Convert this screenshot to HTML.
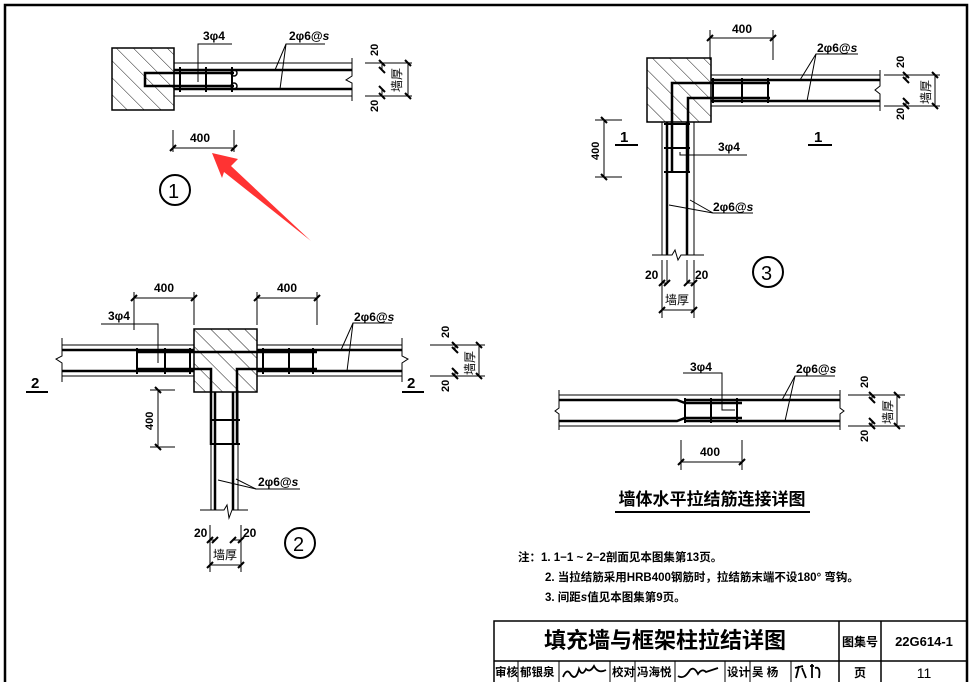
<!DOCTYPE html>
<html><head><meta charset="utf-8"><style>
html,body{margin:0;padding:0;background:#fff;}
svg{display:block;}
text{font-family:"Liberation Sans","Noto Sans CJK SC",sans-serif;fill:#000;}
.b{font-weight:bold;}
.d{marker-start:url(#t);marker-end:url(#t);}
</style></head><body>
<svg width="971" height="682" viewBox="0 0 971 682" xmlns="http://www.w3.org/2000/svg">
<defs>
<pattern id="h" width="12" height="12" patternUnits="userSpaceOnUse" patternTransform="rotate(-45)">
<line x1="0" y1="0" x2="0" y2="12" stroke="#000" stroke-width="0.9"/>
</pattern>
<marker id="t" markerWidth="10" markerHeight="10" refX="5" refY="5" orient="auto" markerUnits="userSpaceOnUse">
<line x1="2" y1="8" x2="8" y2="2" stroke="#000" stroke-width="2"/>
</marker>
</defs>
<rect x="5" y="5" width="962" height="690" fill="none" stroke="#000" stroke-width="2.5"/>

<!-- ========== DETAIL 1 ========== -->
<g stroke="#000" fill="none">
<rect x="112" y="48" width="62" height="62" fill="url(#h)" stroke-width="1.5"/>
<line x1="174" y1="63" x2="352" y2="63"/><line x1="174" y1="96" x2="352" y2="96"/>
<line x1="174" y1="70" x2="352" y2="70" stroke-width="2.5"/><line x1="174" y1="89" x2="352" y2="89" stroke-width="2.5"/>
<polyline points="352,58 352,76 346,80 352,83 352,101"/>
<path d="M234,73 H145 V86 H234" stroke-width="2.5"/>
<line x1="180" y1="67" x2="180" y2="92" stroke-width="2"/><line x1="206" y1="67" x2="206" y2="92" stroke-width="2"/><line x1="232" y1="67" x2="232" y2="92" stroke-width="2"/>
<circle cx="234" cy="73" r="3" stroke-width="1.5"/><circle cx="234" cy="86" r="3" stroke-width="1.5"/>
<polyline points="198,82 198,44 232,44"/>
<polyline points="275,70 286,44 325,44"/><line x1="280" y1="89" x2="286" y2="44"/>
<line x1="173" y1="130" x2="173" y2="152"/><line x1="234" y1="130" x2="234" y2="152"/><line class="d" x1="173" y1="148" x2="234" y2="148"/>
<line x1="365" y1="63" x2="412" y2="63"/><line x1="365" y1="96" x2="412" y2="96"/>
<line class="d" x1="382" y1="63" x2="382" y2="70"/><line class="d" x1="382" y1="89" x2="382" y2="96"/>
<line class="d" x1="408" y1="63" x2="408" y2="96"/>
<circle cx="175" cy="190" r="15" stroke-width="2"/>
</g>
<text x="203" y="40" font-size="12" class="b">3φ4</text>
<text x="289" y="40" font-size="12" class="b">2φ6@<tspan font-style="italic">s</tspan></text>
<text x="190" y="142" font-size="12" class="b">400</text>
<text transform="translate(378,56) rotate(-90)" font-size="11" class="b">20</text>
<text transform="translate(378,112) rotate(-90)" font-size="11" class="b">20</text>
<text transform="translate(401,92) rotate(-90)" font-size="12">墙厚</text>
<text x="168" y="198" font-size="20">1</text>
<polygon points="212,153 238,159 231,166 311,241 224,172 222,178" fill="#f33"/>

<!-- ========== DETAIL 3 ========== -->
<g stroke="#000" fill="none">
<rect x="647" y="58" width="64" height="64" fill="url(#h)" stroke-width="1.5"/>
<line x1="711" y1="75" x2="880" y2="75"/><line x1="711" y1="106" x2="880" y2="106"/>
<line x1="711" y1="80" x2="880" y2="80" stroke-width="2.5"/><line x1="711" y1="101" x2="880" y2="101" stroke-width="2.5"/>
<polyline points="880,70 880,86 875,90 880,94 880,111"/>
<line x1="662" y1="122" x2="662" y2="255"/><line x1="694" y1="122" x2="694" y2="255"/>
<line x1="667" y1="122" x2="667" y2="255" stroke-width="2.5"/><line x1="687" y1="122" x2="687" y2="255" stroke-width="2.5"/>
<polyline points="652,255 672,255 675,250 678,260 681,255 704,255"/>
<path d="M770,83 H672 V173 M770,98 H688 V173" stroke-width="2.5"/>
<line x1="713" y1="78" x2="713" y2="103" stroke-width="2"/><line x1="742" y1="78" x2="742" y2="103" stroke-width="2"/><line x1="768" y1="78" x2="768" y2="103" stroke-width="2"/>
<line x1="664" y1="124" x2="690" y2="124" stroke-width="2"/><line x1="664" y1="148" x2="690" y2="148" stroke-width="2"/><line x1="664" y1="172" x2="690" y2="172" stroke-width="2"/>
<polyline points="680,152 680,155 747,155"/>
<polyline points="669,205 713,213 753,213"/><line x1="690" y1="200" x2="713" y2="213"/>
<polyline points="800,80 816,54 858,54"/><line x1="807" y1="101" x2="816" y2="54"/>
<line x1="710" y1="30" x2="710" y2="60"/><line x1="773" y1="30" x2="773" y2="60"/><line class="d" x1="710" y1="38" x2="773" y2="38"/>
<line x1="595" y1="120" x2="622" y2="120"/><line x1="595" y1="177" x2="622" y2="177"/><line class="d" x1="604" y1="120" x2="604" y2="177"/>
<line x1="615" y1="145" x2="638" y2="145" stroke-width="2"/><line x1="808" y1="145" x2="832" y2="145" stroke-width="2"/>
<line x1="662" y1="260" x2="662" y2="318"/><line x1="694" y1="260" x2="694" y2="318"/>
<line x1="667" y1="260" x2="667" y2="283"/><line x1="687" y1="260" x2="687" y2="283"/>
<line class="d" x1="662" y1="283" x2="667" y2="283"/><line class="d" x1="687" y1="283" x2="694" y2="283"/>
<line class="d" x1="662" y1="310" x2="694" y2="310"/>
<line x1="884" y1="75" x2="940" y2="75"/><line x1="884" y1="106" x2="940" y2="106"/>
<line class="d" x1="906" y1="75" x2="906" y2="80"/><line class="d" x1="906" y1="101" x2="906" y2="106"/>
<line class="d" x1="935" y1="75" x2="935" y2="106"/>
<circle cx="768" cy="272" r="15" stroke-width="2"/>
</g>
<text x="732" y="33" font-size="12" class="b">400</text>
<text x="817" y="52" font-size="12" class="b">2φ6@<tspan font-style="italic">s</tspan></text>
<text x="718" y="151" font-size="12" class="b">3φ4</text>
<text x="713" y="211" font-size="12" class="b">2φ6@<tspan font-style="italic">s</tspan></text>
<text transform="translate(599,160) rotate(-90)" font-size="11" class="b">400</text>
<text x="620" y="142" font-size="15" class="b">1</text>
<text x="814" y="142" font-size="15" class="b">1</text>
<text x="645" y="279" font-size="12" class="b">20</text>
<text x="695" y="279" font-size="12" class="b">20</text>
<text x="665" y="304" font-size="12">墙厚</text>
<text transform="translate(904,68) rotate(-90)" font-size="11" class="b">20</text>
<text transform="translate(904,120) rotate(-90)" font-size="11" class="b">20</text>
<text transform="translate(930,104) rotate(-90)" font-size="12">墙厚</text>
<text x="761" y="280" font-size="20">3</text>

<!-- ========== DETAIL 2 ========== -->
<g stroke="#000" fill="none">
<rect x="194" y="329" width="63" height="63" fill="url(#h)" stroke-width="1.5"/>
<line x1="62" y1="345" x2="194" y2="345"/><line x1="62" y1="376" x2="194" y2="376"/>
<line x1="257" y1="345" x2="402" y2="345"/><line x1="257" y1="376" x2="402" y2="376"/>
<line x1="62" y1="350" x2="194" y2="350" stroke-width="2.5"/><line x1="62" y1="371" x2="194" y2="371" stroke-width="2.5"/>
<line x1="257" y1="350" x2="402" y2="350" stroke-width="2.5"/><line x1="257" y1="371" x2="402" y2="371" stroke-width="2.5"/>
<polyline points="62,338 62,356 56,359 62,363 62,382"/>
<polyline points="402,338 402,356 408,359 402,363 402,382"/>
<path d="M137,352 H254 M137,369 H211 V445 M317,352 H199 M317,369 H237 V445" stroke-width="2.5"/>
<line x1="137" y1="348" x2="137" y2="374" stroke-width="2"/><line x1="165" y1="348" x2="165" y2="374" stroke-width="2"/><line x1="190" y1="348" x2="190" y2="374" stroke-width="2"/>
<line x1="263" y1="348" x2="263" y2="374" stroke-width="2"/><line x1="289" y1="348" x2="289" y2="374" stroke-width="2"/><line x1="313" y1="348" x2="313" y2="374" stroke-width="2"/>
<line x1="211" y1="392" x2="211" y2="510"/><line x1="238" y1="392" x2="238" y2="510"/>
<line x1="215" y1="392" x2="215" y2="510" stroke-width="2.5"/><line x1="233" y1="392" x2="233" y2="510" stroke-width="2.5"/>
<line x1="210" y1="420" x2="240" y2="420" stroke-width="2"/><line x1="210" y1="444" x2="240" y2="444" stroke-width="2"/>
<polyline points="200,510 224,510 227,505 229,518 232,510 248,510"/>
<polyline points="158,363 158,324 101,324"/>
<polyline points="341,350 353,323 392,323"/><line x1="347" y1="371" x2="353" y2="323"/>
<polyline points="218,480 256,489 300,489"/><line x1="236" y1="479" x2="256" y2="489"/>
<line x1="134" y1="292" x2="134" y2="330"/><line x1="194" y1="292" x2="194" y2="325"/><line class="d" x1="134" y1="298" x2="194" y2="298"/>
<line x1="257" y1="292" x2="257" y2="325"/><line x1="317" y1="292" x2="317" y2="325"/><line class="d" x1="257" y1="298" x2="317" y2="298"/>
<line x1="150" y1="390" x2="175" y2="390"/><line x1="150" y1="447" x2="175" y2="447"/><line class="d" x1="158" y1="390" x2="158" y2="447"/>
<line x1="26" y1="392" x2="48" y2="392" stroke-width="2"/><line x1="402" y1="392" x2="424" y2="392" stroke-width="2"/>
<line x1="210" y1="525" x2="210" y2="572"/><line x1="241" y1="525" x2="241" y2="572"/>
<line class="d" x1="210" y1="540" x2="215" y2="540"/><line class="d" x1="233" y1="540" x2="241" y2="540"/>
<line class="d" x1="210" y1="565" x2="241" y2="565"/>
<line x1="430" y1="345" x2="485" y2="345"/><line x1="430" y1="376" x2="485" y2="376"/>
<line class="d" x1="455" y1="345" x2="455" y2="350"/><line class="d" x1="455" y1="371" x2="455" y2="376"/>
<line class="d" x1="479" y1="345" x2="479" y2="376"/>
<circle cx="300" cy="543" r="15" stroke-width="2"/>
</g>
<text x="154" y="292" font-size="12" class="b">400</text>
<text x="277" y="292" font-size="12" class="b">400</text>
<text x="108" y="320" font-size="12" class="b">3φ4</text>
<text x="354" y="321" font-size="12" class="b">2φ6@<tspan font-style="italic">s</tspan></text>
<text x="258" y="486" font-size="12" class="b">2φ6@<tspan font-style="italic">s</tspan></text>
<text transform="translate(153,430) rotate(-90)" font-size="11" class="b">400</text>
<text x="31" y="388" font-size="15" class="b">2</text>
<text x="407" y="388" font-size="15" class="b">2</text>
<text x="194" y="537" font-size="12" class="b">20</text>
<text x="243" y="537" font-size="12" class="b">20</text>
<text x="213" y="559" font-size="12">墙厚</text>
<text transform="translate(449,338) rotate(-90)" font-size="11" class="b">20</text>
<text transform="translate(449,392) rotate(-90)" font-size="11" class="b">20</text>
<text transform="translate(474,375) rotate(-90)" font-size="12">墙厚</text>
<text x="293" y="551" font-size="20">2</text>

<!-- ========== LAP DETAIL ========== -->
<g stroke="#000" fill="none">
<line x1="559" y1="395" x2="840" y2="395"/><line x1="559" y1="426" x2="840" y2="426"/>
<path d="M559,400 H677 L685,403 H742 M684,400 H840" stroke-width="2.5"/>
<path d="M559,421 H677 L685,418 H742 M684,421 H840" stroke-width="2.5"/>
<polyline points="559,390 559,408 555,411 559,414 559,430"/>
<polyline points="840,390 840,408 844,411 840,414 840,430"/>
<line x1="685" y1="398" x2="685" y2="423" stroke-width="2"/><line x1="711" y1="398" x2="711" y2="423" stroke-width="2"/><line x1="737" y1="398" x2="737" y2="423" stroke-width="2"/>
<polyline points="683,373 722,373 722,410 735,410"/>
<polyline points="782,400 795,376 835,376"/><line x1="785" y1="421" x2="795" y2="376"/>
<line x1="681" y1="440" x2="681" y2="470"/><line x1="742" y1="440" x2="742" y2="470"/><line class="d" x1="681" y1="462" x2="742" y2="462"/>
<line x1="848" y1="395" x2="905" y2="395"/><line x1="848" y1="426" x2="905" y2="426"/>
<line class="d" x1="872" y1="395" x2="872" y2="400"/><line class="d" x1="872" y1="421" x2="872" y2="426"/>
<line class="d" x1="897" y1="395" x2="897" y2="426"/>
<line x1="615" y1="512" x2="810" y2="512" stroke-width="2"/>
</g>
<text x="690" y="371" font-size="12" class="b">3φ4</text>
<text x="796" y="373" font-size="12" class="b">2φ6@<tspan font-style="italic">s</tspan></text>
<text x="700" y="456" font-size="12" class="b">400</text>
<text transform="translate(868,388) rotate(-90)" font-size="11" class="b">20</text>
<text transform="translate(868,442) rotate(-90)" font-size="11" class="b">20</text>
<text transform="translate(892,424) rotate(-90)" font-size="12">墙厚</text>
<text x="712" y="505" font-size="17" class="b" text-anchor="middle">墙体水平拉结筋连接详图</text>

<!-- notes -->
<text x="518" y="561" font-size="11.5" class="b">注：1. 1−1 ~ 2−2剖面见本图集第13页。</text>
<text x="545" y="581" font-size="11.5" class="b">2. 当拉结筋采用HRB400钢筋时，拉结筋末端不设180° 弯钩。</text>
<text x="545" y="601" font-size="11.5" class="b">3. 间距<tspan font-style="italic">s</tspan>值见本图集第9页。</text>

<!-- title block -->
<g stroke="#000" fill="none" stroke-width="1.5">
<rect x="494" y="621" width="473" height="70"/>
<line x1="494" y1="661" x2="967" y2="661"/>
<line x1="839" y1="621" x2="839" y2="682"/>
<line x1="881" y1="621" x2="881" y2="682"/>
<g stroke-width="1">
<line x1="518" y1="661" x2="518" y2="682"/><line x1="559" y1="661" x2="559" y2="682"/>
<line x1="610" y1="661" x2="610" y2="682"/><line x1="635" y1="661" x2="635" y2="682"/>
<line x1="675" y1="661" x2="675" y2="682"/><line x1="725" y1="661" x2="725" y2="682"/>
<line x1="750" y1="661" x2="750" y2="682"/><line x1="791" y1="661" x2="791" y2="682"/>
</g>
</g>
<text x="665" y="648" font-size="22" class="b" text-anchor="middle">填充墙与框架柱拉结详图</text>
<text x="860" y="646" font-size="12" class="b" text-anchor="middle">图集号</text>
<text x="924" y="646" font-size="13" class="b" text-anchor="middle">22G614-1</text>
<text x="860" y="677" font-size="12" class="b" text-anchor="middle">页</text>
<text x="924" y="678" font-size="14" text-anchor="middle">11</text>
<g font-size="11.5" class="b">
<text x="495" y="676">审核</text><text x="520" y="676">郁银泉</text>
<text x="612" y="676">校对</text><text x="637" y="676">冯海悦</text>
<text x="727" y="676">设计</text><text x="752" y="676">吴 杨</text>
</g>
<g stroke="#000" fill="none" stroke-width="1.8">
<path d="M563,677 q4,-10 8,-2 q5,6 8,-6 q3,8 7,0 q4,4 8,-3 q4,8 12,4"/>
<path d="M678,676 q6,4 12,-6 q4,-4 8,4 q4,-6 8,-2 q6,-2 12,-4"/>
<path d="M795,668 l8,-2 m-4,0 l-3,12 m6,-10 l4,10 m4,-12 l4,0 m-2,-2 l0,14 m3,-10 q6,-2 4,10"/>
</g>
</svg>
</body></html>
